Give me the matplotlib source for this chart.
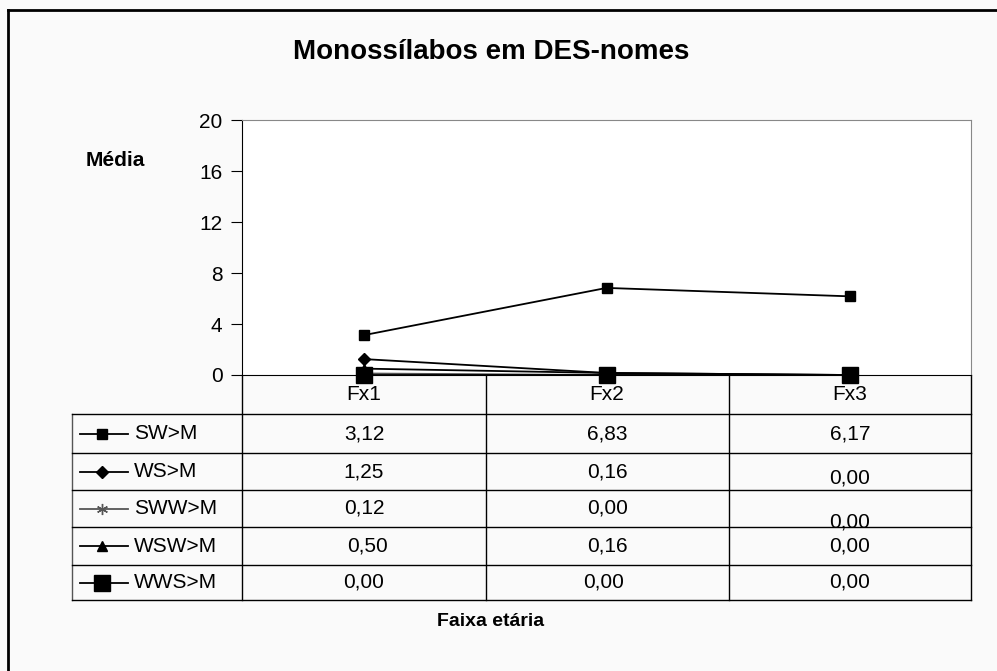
import matplotlib
matplotlib.use("Agg")
import matplotlib.pyplot as plt

plt.rcParams['font.family'] = ['Liberation Sans', 'DejaVu Sans']

# data
categories = ["Fx1", "Fx2", "Fx3"]
series_names = ["SW>M", "WS>M", "SWW>M", "WSW>M", "WWS>M"]
sw = [3.12, 6.83, 6.17]
ws = [1.25, 0.16, 0.00]
sww = [0.12, 0.00, 0.00]
wsw = [0.50, 0.16, 0.00]
wws = [0.00, 0.00, 0.00]
yticks = [0, 4, 8, 12, 16, 20]

series = [sw, ws, sww, wsw, wws]
styles = [
    dict(marker="s", ms=7, color="black", mfc="black"),
    dict(marker="D", ms=6.5, color="black", mfc="black"),
    dict(marker=(6, 2, 0), ms=8, color="#555555", mfc="#555555"),
    dict(marker="^", ms=7.5, color="black", mfc="black"),
    dict(marker="s", ms=12, color="black", mfc="black"),
]
# (dx, dy) pixel nudges for a few table cells, keyed by (row, col)
cell_nudge = {(1, 2): (0, 7), (2, 2): (0, 14), (3, 0): (3, 0), (4, 1): (-4, 0)}

W, H = 997, 671
fig = plt.figure(figsize=(W / 100, H / 100), dpi=100, facecolor="#fafafa")

# pixel-space layer for the frame and the data table
bg = fig.add_axes([0, 0, 1, 1])
bg.set_xlim(0, W)
bg.set_ylim(H, 0)
bg.axis("off")

left, right, top, zero = 242, 971, 120, 375
col_edges = [72, 242, 486, 729, 971]
row_edges = [375, 414, 453, 490, 527, 565, 600]

ax = fig.add_axes([left / W, 1 - zero / H, (right - left) / W, (zero - top) / H])
ax.set_facecolor("white")
x = range(len(categories))
for vals, st in zip(series, styles):
    ax.plot(x, vals, lw=1.3, clip_on=False, mec=st["color"], **st)

ax.set_xlim(-0.5, len(categories) - 0.5)
ax.set_ylim(0, 20)
ax.set_yticks(yticks)
ax.set_xticks(list(x))
ax.set_xticklabels(categories, fontsize=15)
ax.tick_params(axis="x", length=0, pad=7)
ax.tick_params(axis="y", direction="out", length=8, labelsize=15, pad=6)
for s in ["top", "right"]:
    ax.spines[s].set_color("#888888")
ax.spines["left"].set_color("black")
ax.spines["bottom"].set_color("black")

# outer chart frame
bg.plot([8, 8], [10, H], color="black", lw=2)
bg.plot([8, W], [10, 10], color="black", lw=2)

# table grid
for xe in col_edges[1:]:
    bg.plot([xe, xe], [row_edges[0], row_edges[-1]], color="black", lw=1)
bg.plot([col_edges[0], col_edges[0]], [row_edges[1], row_edges[-1]], color="#555555", lw=1)
for ye in row_edges[1:]:
    bg.plot([col_edges[0], col_edges[-1]], [ye, ye], color="black", lw=1)

col_centers = [(col_edges[i] + col_edges[i + 1]) / 2 for i in range(1, 4)]
for r, (name, vals, st) in enumerate(zip(series_names, series, styles)):
    yc = (row_edges[r + 1] + row_edges[r + 2]) / 2
    bg.plot([80, 128], [yc, yc], color=st["color"], lw=1.3)
    bg.plot([102], [yc], linestyle="none", marker=st["marker"], ms=st["ms"],
            color=st["color"], mec=st["color"], mfc=st["mfc"])
    bg.text(134, yc, name, fontsize=15, ha="left", va="center")
    for c, (xc, v) in enumerate(zip(col_centers, vals)):
        dx, dy = cell_nudge.get((r, c), (0, 0))
        bg.text(xc + dx, yc + dy, f"{v:.2f}".replace(".", ","), fontsize=15,
                ha="center", va="center")

fig.text(491 / W, 1 - 52 / H, "Monossílabos em DES-nomes", fontsize=20,
         fontweight="bold", ha="center", va="center")
fig.text(115 / W, 1 - 160 / H, "Média", fontsize=15, fontweight="bold",
         ha="center", va="center")
fig.text(491 / W, 1 - 621 / H, "Faixa etária", fontsize=14, fontweight="bold",
         ha="center", va="center")

fig.savefig("out.png", dpi=100, facecolor=fig.get_facecolor())
